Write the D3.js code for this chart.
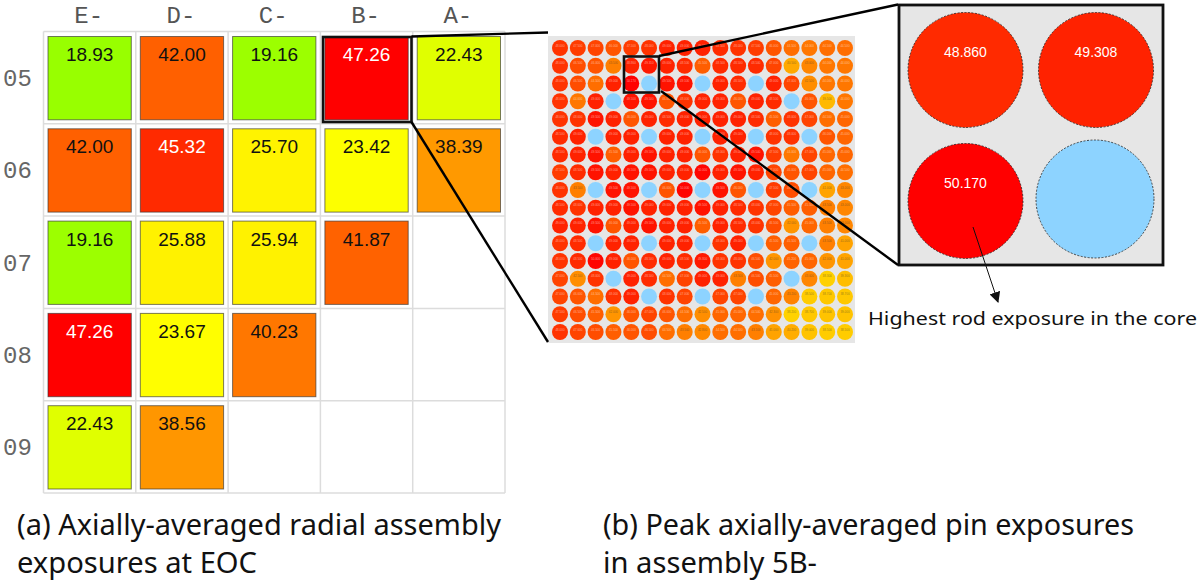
<!DOCTYPE html>
<html><head><meta charset="utf-8">
<script src="https://cdnjs.cloudflare.com/ajax/libs/d3/7.8.5/d3.min.js"></script>
<style>html,body{margin:0;background:#fff}svg{display:block}</style></head>
<body><svg id="c" width="1200" height="582"></svg>
<script>
const columns = ["E-","D-","C-","B-","A-"];
const rows = ["05","06","07","08","09"];
const assembly = [
 [18.93,42.00,19.16,47.26,22.43],
 [42.00,45.32,25.70,23.42,38.39],
 [19.16,25.88,25.94,41.87,null],
 [47.26,23.67,40.23,null,null],
 [22.43,38.56,null,null,null]
];
// Peak pin exposures in assembly 5B-, estimated from colours; null = guide tube
const _ = null;
const pins = [
 [48,47.5,47,46,47.5,48,49,49,49,48.5,48,47.5,46,44.5,44,44.5,44.5],
 [48,46.5,46,43.5,48.86,49.31,49,48.5,45.5,48.5,48.5,48.5,47,40.5,43,44,44],
 [48,46.5,44.5,49,50.17,_,49.5,49.5,_,49,48.5,_,49,47,42.5,44,44],
 [48,44,49,_,49.5,49.5,46,48,49,49,46,49,48.5,_,46,39.5,44],
 [48,48,49.5,49,46,49,48.5,49,49,49,49,48.5,45.5,48,47,44.5,45],
 [48.5,49,_,49,49,_,49,49,_,49,49,_,48,48,_,46,45],
 [48.5,49,49.5,45.5,49,49.5,49,49,46,48,49,49.5,47.5,44,47,45,45],
 [47.5,48.5,49.5,49,49.5,49.5,49,49,50,49,49.5,49,47,46,47,45,44.5],
 [48,43.5,_,49.5,49.5,_,46,50,_,49.5,46,_,47.5,46.5,_,41,43],
 [48.5,48,49,49,49.5,49,49,49,49.5,49,48.5,48,47,45.5,45.5,43.5,43],
 [49,49,49.5,46,49,49.5,49,49,45.5,49,48.5,48,46.5,42,45,43.5,43],
 [48,48.5,_,49,49,_,49,49,_,48,49,_,45.5,45.5,_,43.5,41],
 [48,48.5,50,49,46,48.5,49,48.5,49.3,48,48,46.5,42,45.2,45,42,41],
 [47,42.5,48,_,49,48.5,44.5,47,49,49,43.5,46.5,45.5,_,43,38.3,39.3],
 [47,46,44.5,48,49,_,48,47,_,47,47,_,45,43.2,38.5,38.7,38.7],
 [47.5,46.5,45.5,42,46,47,46,44.5,42.5,45,45,44.5,42.3,38.2,38.7,39,39],
 [48,47,46.5,45.5,46,46.5,44.5,43.5,42.8,44.5,44.5,43.5,41,40.2,39,38.5,38.5]
];
const zoomPins = [[48.860,49.308],[50.170,null]];
const zoomCols = ["a","b"];
const captions = [
 {t:"(a) Axially-averaged radial assembly",x:17,y:535,w:484},
 {t:"exposures at EOC",x:17,y:573,w:240},
 {t:"(b) Peak axially-averaged pin exposures",x:603,y:535,w:531},
 {t:"in assembly 5B-",x:603,y:573,w:214}
];
const asmColor = d3.scaleLinear()
 .domain([19,22.43,23.5,25.9,38.4,40.23,42,45.32,47.26])
 .range(["#99ff00","#e0ff00","#ffff00","#fff200","#ff9900","#ff7700","#ff6000","#ff2a00","#ff0000"]);
const pinColor = d3.scaleLinear()
 .domain([38.5,40,42,43.5,45,46,47,48,49,50.17])
 .range(["#ffcc00","#ffb000","#ff9500","#ff7f00","#ff6600","#ff5500","#ff4400","#ff3300","#ff2200","#ff0000"]);
const blue = "#8dd3ff";
const svg = d3.select("#c");

// ---- panel (a)
const gx = d3.scaleBand().domain(columns).range([43.5,505]);
const gy = d3.scaleBand().domain(rows).range([31.5,493]);
const grid = svg.append("g").attr("stroke","#dcdcdc").attr("stroke-width",1.5);
d3.range(6).forEach(i=>{
  const x=43.5+i*gx.step(), y=31.5+i*gy.step();
  grid.append("line").attr("x1",x).attr("x2",x).attr("y1",31.5).attr("y2",493);
  grid.append("line").attr("y1",y).attr("y2",y).attr("x1",43.5).attr("x2",505);
});
const inset=4.5;
rows.forEach((r,ri)=>columns.forEach((c,ci)=>{
  const v=assembly[ri][ci]; if(v==null) return;
  const x=gx(c)+inset,y=gy(r)+inset+0.5,w=gx.bandwidth()-2*inset,h=gy.bandwidth()-2*inset;
  svg.append("rect").attr("x",x).attr("y",y).attr("width",w).attr("height",h)
    .attr("fill",asmColor(v)).attr("stroke","#333").attr("stroke-opacity",.65).attr("stroke-width",1);
  svg.append("text").attr("x",x+w/2).attr("y",y+24.5).attr("text-anchor","middle")
    .attr("font-family","Liberation Sans").attr("font-size",19)
    .attr("fill",v>45?"#fff":"#111").text(v.toFixed(2));
}));
svg.selectAll("text.col").data(columns).join("text").attr("class","col")
  .attr("x",c=>gx(c)+gx.bandwidth()/2-1).attr("y",23).attr("text-anchor","middle")
  .attr("font-family","Liberation Mono").attr("font-size",24).attr("fill","#555").text(c=>c);
svg.selectAll("text.row").data(rows).join("text").attr("class","row")
  .attr("x",17.5).attr("y",r=>gy(r)+gy.bandwidth()/2+8.5).attr("text-anchor","middle")
  .attr("font-family","Liberation Mono").attr("font-size",24).attr("fill","#666").text(r=>r);

// ---- panel (b)
svg.append("rect").attr("x",548).attr("y",36).attr("width",307).attr("height",307).attr("fill","#e6e6e6");
const px = d3.scalePoint().domain(d3.range(17)).range([560,845]);
const py = d3.scalePoint().domain(d3.range(17)).range([48,332]);
pins.forEach((row,ri)=>row.forEach((v,ci)=>{
  svg.append("circle").attr("cx",px(ci)).attr("cy",py(ri)).attr("r",8)
    .attr("fill",v==null?blue:pinColor(v));
  if(v!=null) svg.append("text").attr("x",px(ci)).attr("y",py(ri)-1.5).attr("text-anchor","middle")
    .attr("font-family","Liberation Sans").attr("font-size",3)
    .attr("fill",v<44?"#333":"#fff").attr("fill-opacity",.5).text(v.toFixed(3));
}));
// inset
svg.append("rect").attr("x",899).attr("y",5).attr("width",264).attr("height",260).attr("fill","#e6e6e6");
const zx = d3.scalePoint().domain(zoomCols).range([965.5,1096]);
const zy = d3.scalePoint().domain(zoomCols).range([70,201]);
zoomPins.forEach((row,ri)=>row.forEach((v,ci)=>{
  const cx=zx(zoomCols[ci]), cy=zy(zoomCols[ri]);
  svg.append("circle").attr("cx",cx-(v==null?1:0)).attr("cy",cy-(v==null?2:0)).attr("r",v==null?59:57.5)
    .attr("fill",v==null?blue:(v>50?"#ff0000":(v>49?"#ff2200":"#ff2a00")))
    .attr("stroke","#222").attr("stroke-width",.8).attr("stroke-dasharray","2 1.5");
  if(v!=null) svg.append("text").attr("x",cx).attr("y",cy-13).attr("text-anchor","middle")
    .attr("font-family","Liberation Sans").attr("font-size",14).attr("fill","#fff").text(v.toFixed(3));
}));
svg.append("rect").attr("x",899).attr("y",5).attr("width",264).attr("height",260).attr("fill","none").attr("stroke","#111").attr("stroke-width",2.8);

// connectors & highlights
const line=(a,b,c,d,w)=>svg.append("line").attr("x1",a).attr("y1",b).attr("x2",c).attr("y2",d).attr("stroke","#000").attr("stroke-width",w);
svg.append("rect").attr("x",323).attr("y",37).attr("width",88.5).attr("height",85).attr("fill","none").attr("stroke","#111").attr("stroke-width",2.6);
svg.append("rect").attr("x",624).attr("y",56.5).attr("width",35).attr("height",36).attr("fill","none").attr("stroke","#111").attr("stroke-width",2.6);
line(411.5,36.5,548,32.5,2.4);
line(411.5,122,548,342,2.4);
line(659,56,898,4.5,2.4);
line(661,91,898,265,2.4);
// arrow
svg.append("defs").append("marker").attr("id","ah").attr("viewBox","0 0 10 10").attr("refX",9).attr("refY",5)
  .attr("markerWidth",11).attr("markerHeight",11).attr("markerUnits","userSpaceOnUse").attr("orient","auto")
  .append("path").attr("d","M0,0L10,5L0,10Z").attr("fill","#111");
svg.append("line").attr("x1",973).attr("y1",227).attr("x2",998).attr("y2",302).attr("stroke","#111").attr("stroke-width",1).attr("marker-end","url(#ah)");
svg.append("text").attr("x",868).attr("y",325).attr("font-family","Noto Sans").attr("font-size",18).attr("fill","#111")
  .attr("textLength",329).attr("lengthAdjust","spacingAndGlyphs").text("Highest rod exposure in the core");

// captions
svg.selectAll("text.cap").data(captions).join("text").attr("class","cap")
  .attr("x",d=>d.x).attr("y",d=>d.y).attr("font-family","Noto Sans").attr("font-size",29).attr("fill","#111")
  .attr("textLength",d=>d.w).attr("lengthAdjust","spacingAndGlyphs").text(d=>d.t);
</script></body></html>
